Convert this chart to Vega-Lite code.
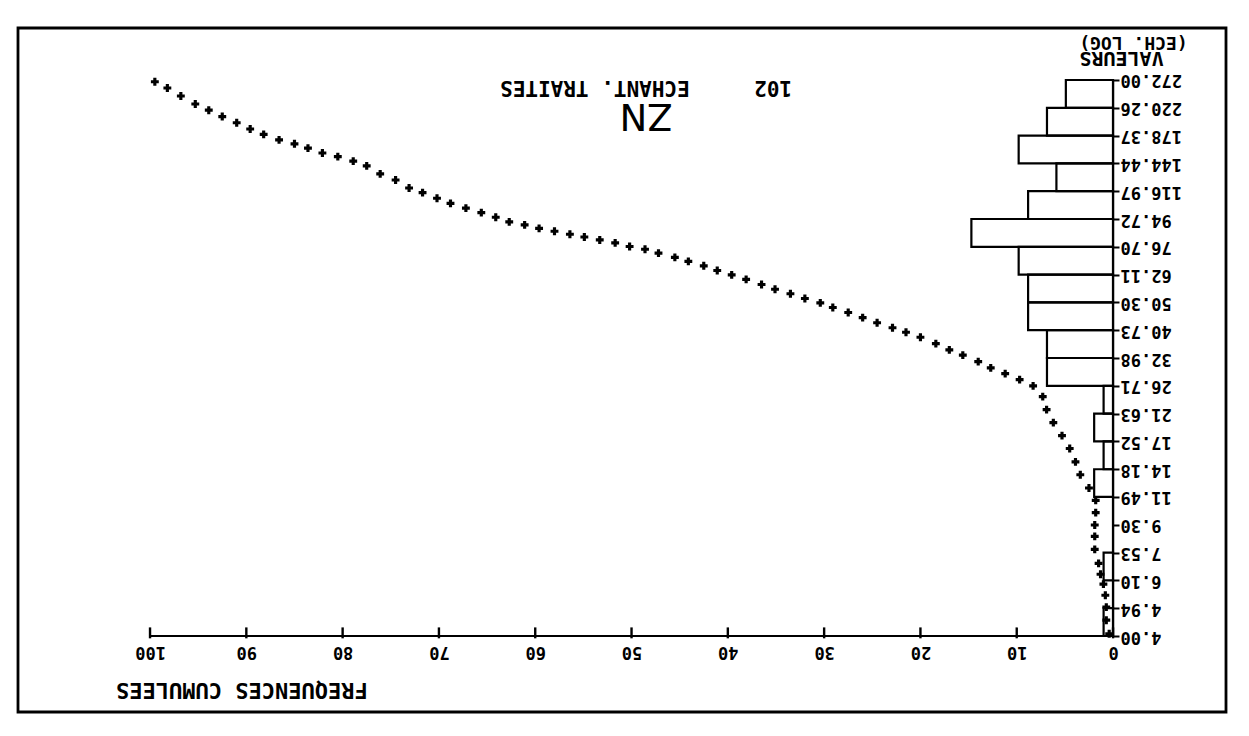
{
  "$schema": "https://vega.github.io/schema/vega-lite/v6.json",
  "width": 1208,
  "height": 684,
  "autosize": {"type": "none"},
  "padding": {"left": 18, "top": 28, "right": 23, "bottom": 24},
  "background": "white",
  "config": {
    "view": {"stroke": "black", "strokeWidth": 2.8},
    "axis": {"labelFont": "DejaVu Sans Mono", "labelFontWeight": "bold", "labelColor": "black", "labelFontSize": 17}
  },
  "datasets": {
    "hist": [
      {"lo": 4.00, "hi": 4.94, "pct": 0.98},
      {"lo": 4.94, "hi": 6.10, "pct": 0},
      {"lo": 6.10, "hi": 7.53, "pct": 0.98},
      {"lo": 7.53, "hi": 9.30, "pct": 0},
      {"lo": 9.30, "hi": 11.49, "pct": 0},
      {"lo": 11.49, "hi": 14.18, "pct": 1.96},
      {"lo": 14.18, "hi": 17.52, "pct": 0.98},
      {"lo": 17.52, "hi": 21.63, "pct": 1.96},
      {"lo": 21.63, "hi": 26.71, "pct": 0.98},
      {"lo": 26.71, "hi": 32.98, "pct": 6.86},
      {"lo": 32.98, "hi": 40.73, "pct": 6.86},
      {"lo": 40.73, "hi": 50.30, "pct": 8.82},
      {"lo": 50.30, "hi": 62.11, "pct": 8.82},
      {"lo": 62.11, "hi": 76.70, "pct": 9.80},
      {"lo": 76.70, "hi": 94.72, "pct": 14.71},
      {"lo": 94.72, "hi": 116.97, "pct": 8.82},
      {"lo": 116.97, "hi": 144.44, "pct": 5.88},
      {"lo": 144.44, "hi": 178.37, "pct": 9.80},
      {"lo": 178.37, "hi": 220.26, "pct": 6.86},
      {"lo": 220.26, "hi": 272.00, "pct": 4.90}
    ],
    "cumul": [
      {"cum": 99.5, "val": 268.5}, {"cum": 98.2, "val": 256.0}, {"cum": 96.8, "val": 240.9},
      {"cum": 95.3, "val": 226.7}, {"cum": 93.9, "val": 216.3}, {"cum": 92.5, "val": 206.1},
      {"cum": 91.0, "val": 196.6}, {"cum": 89.6, "val": 187.5}, {"cum": 88.2, "val": 180.0},
      {"cum": 86.6, "val": 172.6}, {"cum": 85.0, "val": 167.6}, {"cum": 83.6, "val": 162.2},
      {"cum": 82.1, "val": 156.3}, {"cum": 80.5, "val": 152.1}, {"cum": 78.9, "val": 146.9},
      {"cum": 77.5, "val": 141.8}, {"cum": 76.1, "val": 133.4}, {"cum": 74.5, "val": 127.3},
      {"cum": 73.1, "val": 119.8}, {"cum": 71.7, "val": 115.7}, {"cum": 70.2, "val": 110.9},
      {"cum": 68.8, "val": 106.6}, {"cum": 67.2, "val": 102.9}, {"cum": 65.6, "val": 99.4},
      {"cum": 64.1, "val": 96.0}, {"cum": 62.7, "val": 92.7}, {"cum": 61.1, "val": 90.6},
      {"cum": 59.6, "val": 88.2}, {"cum": 58.0, "val": 86.3}, {"cum": 56.4, "val": 84.4},
      {"cum": 54.9, "val": 82.6}, {"cum": 53.3, "val": 80.8}, {"cum": 51.7, "val": 79.0},
      {"cum": 50.2, "val": 76.9}, {"cum": 48.6, "val": 75.3}, {"cum": 47.2, "val": 73.1},
      {"cum": 45.5, "val": 70.8}, {"cum": 44.1, "val": 68.7}, {"cum": 42.5, "val": 66.4},
      {"cum": 41.1, "val": 64.1}, {"cum": 39.6, "val": 62.0}, {"cum": 38.1, "val": 59.9},
      {"cum": 36.5, "val": 57.6}, {"cum": 35.1, "val": 55.6}, {"cum": 33.5, "val": 53.7},
      {"cum": 32.0, "val": 51.8}, {"cum": 30.4, "val": 50.1}, {"cum": 29.1, "val": 48.4},
      {"cum": 27.5, "val": 46.6}, {"cum": 26.0, "val": 44.8}, {"cum": 24.5, "val": 43.1},
      {"cum": 22.9, "val": 41.5}, {"cum": 21.5, "val": 40.1}, {"cum": 20.0, "val": 38.6},
      {"cum": 18.4, "val": 36.8}, {"cum": 17.0, "val": 35.1}, {"cum": 15.6, "val": 33.7},
      {"cum": 14.0, "val": 32.1}, {"cum": 12.7, "val": 30.6}, {"cum": 11.2, "val": 29.3},
      {"cum": 9.7, "val": 28.0}, {"cum": 8.3, "val": 26.7}, {"cum": 7.3, "val": 24.6},
      {"cum": 6.9, "val": 22.3}, {"cum": 6.2, "val": 20.2}, {"cum": 5.3, "val": 18.3},
      {"cum": 4.5, "val": 16.6}, {"cum": 3.9, "val": 15.0}, {"cum": 3.4, "val": 13.6},
      {"cum": 2.5, "val": 12.3}, {"cum": 1.8, "val": 11.2}, {"cum": 1.8, "val": 10.2},
      {"cum": 1.9, "val": 9.29}, {"cum": 1.9, "val": 8.52}, {"cum": 1.9, "val": 7.72},
      {"cum": 1.5, "val": 6.94}, {"cum": 1.3, "val": 6.39}, {"cum": 1.0, "val": 5.93},
      {"cum": 0.8, "val": 5.45}, {"cum": 0.7, "val": 4.98}, {"cum": 0.7, "val": 4.51},
      {"cum": 0.4, "val": 4.07}
    ],
    "xticks": [
      {"t": 0}, {"t": 10}, {"t": 20}, {"t": 30}, {"t": 40}, {"t": 50},
      {"t": 60}, {"t": 70}, {"t": 80}, {"t": 90}, {"t": 100}
    ],
    "one": [{}]
  },
  "layer": [
    {
      "data": {"name": "hist"},
      "mark": {"type": "rect", "fill": "white", "fillOpacity": 0, "stroke": "black", "strokeWidth": 2.2},
      "encoding": {
        "x": {
          "field": "pct", "type": "quantitative", "title": null,
          "scale": {"domain": [-11.73, 113.71], "reverse": true, "nice": false, "zero": false},
          "axis": {
            "orient": "bottom", "offset": -76, "values": [0, 10, 20, 30, 40, 50, 60, 70, 80, 90, 100],
            "format": "d", "domain": false, "grid": false, "ticks": false,
            "labelAngle": 180, "labelAlign": "center", "labelBaseline": "bottom", "labelPadding": 6,
            "labelOverlap": false, "labelFlush": false, "labelBound": false
          }
        },
        "x2": {"datum": 0},
        "y": {
          "field": "lo", "type": "quantitative", "title": null,
          "scale": {"type": "log", "domain": [2.247, 403.6], "nice": false},
          "axis": {
            "orient": "right", "offset": -113,
            "values": [4.00, 4.94, 6.10, 7.53, 9.30, 11.49, 14.18, 17.52, 21.63, 26.71, 32.98, 40.73, 50.30, 62.11, 76.70, 94.72, 116.97, 144.44, 178.37, 220.26, 272.00],
            "format": ".2f", "domain": false, "grid": false, "ticks": true, "tickSize": 6, "tickWidth": 2, "tickColor": "black",
            "labelAngle": 180, "labelAlign": "right", "labelBaseline": "middle", "labelPadding": 1,
            "labelOverlap": false, "labelFlush": false, "labelBound": false
          }
        },
        "y2": {"field": "hi"}
      }
    },
    {
      "data": {"name": "one"},
      "mark": {"type": "rule", "color": "black", "strokeWidth": 2.2},
      "encoding": {
        "x": {"datum": 0, "type": "quantitative", "title": null},
        "y": {"datum": 4, "type": "quantitative", "title": null},
        "y2": {"datum": 272}
      }
    },
    {
      "data": {"name": "one"},
      "mark": {"type": "rule", "color": "black", "strokeWidth": 2.2},
      "encoding": {
        "x": {"datum": 0, "type": "quantitative", "title": null},
        "x2": {"datum": 100},
        "y": {"datum": 4, "type": "quantitative", "title": null}
      }
    },
    {
      "data": {"name": "xticks"},
      "mark": {"type": "rule", "color": "black", "strokeWidth": 2.4},
      "encoding": {
        "x": {"field": "t", "type": "quantitative", "title": null},
        "y": {"datum": 3.93, "type": "quantitative", "title": null},
        "y2": {"datum": 4.27}
      }
    },
    {
      "data": {"name": "cumul"},
      "mark": {"type": "point", "shape": "cross", "filled": true, "size": 62, "color": "black", "opacity": 1},
      "encoding": {
        "x": {"field": "cum", "type": "quantitative", "title": null},
        "y": {"field": "val", "type": "quantitative", "title": null}
      }
    },
    {
      "data": {"name": "one"},
      "mark": {"type": "text", "text": "ZN", "angle": 180, "font": "DejaVu Sans", "fontSize": 37, "align": "center", "baseline": "middle", "color": "black"},
      "encoding": {
        "x": {"datum": 48.5, "type": "quantitative", "title": null},
        "y": {"datum": 208.0, "type": "quantitative", "title": null}
      }
    },
    {
      "data": {"name": "one"},
      "mark": {"type": "text", "text": "102", "angle": 180, "font": "DejaVu Sans Mono", "fontWeight": "bold", "fontSize": 21, "align": "center", "baseline": "middle", "color": "black"},
      "encoding": {
        "x": {"datum": 35.3, "type": "quantitative", "title": null},
        "y": {"datum": 258.0, "type": "quantitative", "title": null}
      }
    },
    {
      "data": {"name": "one"},
      "mark": {"type": "text", "text": "ECHANT. TRAITES", "angle": 180, "font": "DejaVu Sans Mono", "fontWeight": "bold", "fontSize": 21, "align": "center", "baseline": "middle", "color": "black"},
      "encoding": {
        "x": {"datum": 53.8, "type": "quantitative", "title": null},
        "y": {"datum": 258.0, "type": "quantitative", "title": null}
      }
    },
    {
      "data": {"name": "one"},
      "mark": {"type": "text", "text": "VALEURS", "angle": 180, "font": "DejaVu Sans Mono", "fontWeight": "bold", "fontSize": 20, "align": "right", "baseline": "middle", "color": "black"},
      "encoding": {
        "x": {"datum": 3.5, "type": "quantitative", "title": null},
        "y": {"datum": 322.5, "type": "quantitative", "title": null}
      }
    },
    {
      "data": {"name": "one"},
      "mark": {"type": "text", "text": "(ECH. LOG)", "angle": 180, "font": "DejaVu Sans Mono", "fontWeight": "bold", "fontSize": 18, "align": "right", "baseline": "middle", "color": "black"},
      "encoding": {
        "x": {"datum": 3.5, "type": "quantitative", "title": null},
        "y": {"datum": 362.0, "type": "quantitative", "title": null}
      }
    },
    {
      "data": {"name": "one"},
      "mark": {"type": "text", "text": "FREQUENCES  CUMULEES", "angle": 180, "font": "DejaVu Sans Mono", "fontWeight": "bold", "fontSize": 22, "align": "center", "baseline": "middle", "color": "black"},
      "encoding": {
        "x": {"datum": 90.46, "type": "quantitative", "title": null},
        "y": {"datum": 2.66, "type": "quantitative", "title": null}
      }
    }
  ]
}
